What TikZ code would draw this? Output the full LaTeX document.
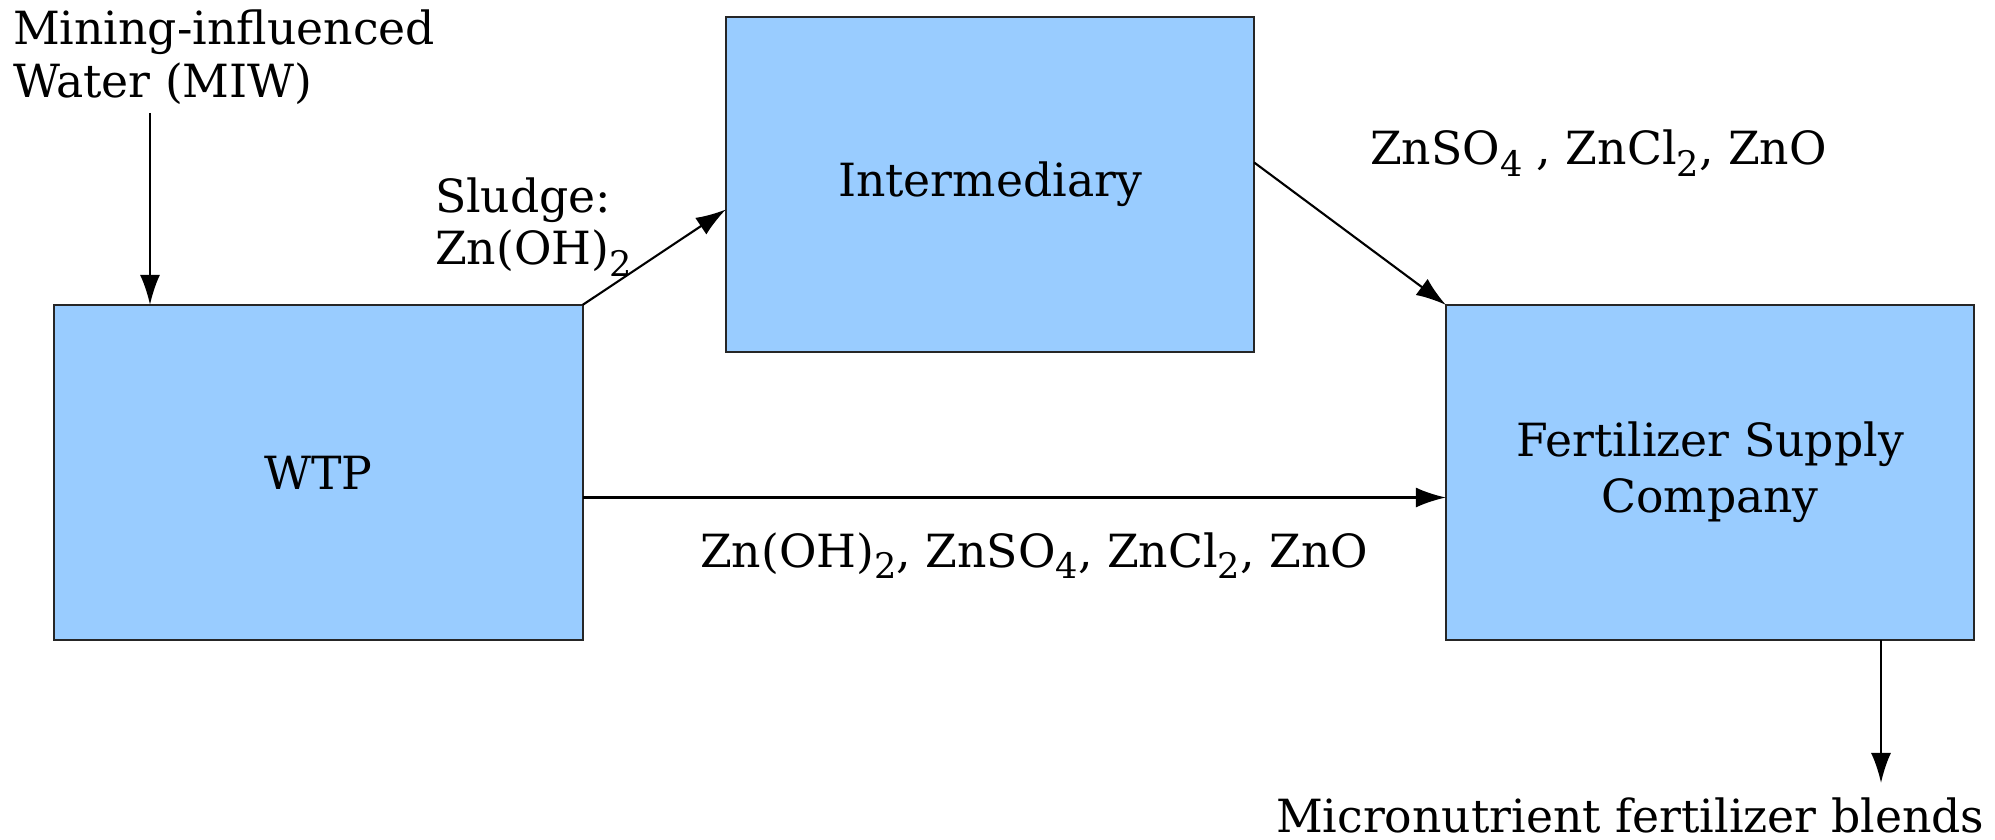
\documentclass[tikz,border=0pt]{standalone}
\usepackage{fontspec}
\setmainfont{DejaVu Serif}
\usetikzlibrary{arrows.meta}
\definecolor{boxblue}{HTML}{99CCFF}
\newcommand{\chemsub}[1]{\raisebox{-0.5ex}{\fontsize{10}{12}\selectfont #1}}
\tikzset{
  unit/.style={draw=black!85, line width=0.6pt, fill=boxblue, minimum width=5.28cm, minimum height=3.35cm,
    inner sep=0pt, outer sep=0pt, align=center, font=\fontsize{13}{16}\selectfont},
  lbl/.style={inner sep=0pt, outer sep=0pt, align=left, font=\fontsize{13}{16}\selectfont},
  flow/.style={-{Latex[length=3mm,width=2mm]}, line width=0.6pt}
}
\begin{document}
\begin{tikzpicture}[x=0.01cm, y=-0.01cm]
      \useasboundingbox (0,0) rectangle (1995,840);
      % process units
      \node[unit] (wtp) at (318.5,472.5) {WTP};
      \node[unit] (inter) at (990,184.5) {Intermediary};
      \node[unit] (fert) at (1710,472.5) {Fertilizer Supply\\Company};
      % labels
      \node[lbl, anchor=base west] (miw) at (13,45) {Mining-influenced};
      \node[lbl, anchor=base west] (miw2) at (13,98) {Water (MIW)};
      \node[lbl, anchor=base west] (sludge) at (435,213) {Sludge:};
      \node[lbl, anchor=base west] (sludge2) at (435,265) {Zn(OH)\chemsub{2}};
      \node[lbl, anchor=base west] (zinc1) at (1370,165) {ZnSO\chemsub{4} , ZnCl\chemsub{2}, ZnO};
      \node[lbl, anchor=base west] (zinc2) at (700,567) {Zn(OH)\chemsub{2}, ZnSO\chemsub{4}, ZnCl\chemsub{2}, ZnO};
      \node[lbl, anchor=base west] (blends) at (1276,832) {Micronutrient fertilizer blends};
      % flows
      \coordinate (miwin) at (150,113);
      \coordinate (out) at (1881,783);
      \draw[flow] (miwin) -- (miwin |- wtp.north);
      \draw[flow] (wtp.north east) -- ([yshift=-0.25cm]inter.west);
      \draw[flow] ([yshift=0.22cm]inter.east) -- (fert.north west);
      \draw[flow] ([yshift=-0.25cm]wtp.east) -- ([yshift=-0.25cm]fert.west);
      \draw[flow] (fert.south -| out) -- (out);
\end{tikzpicture}
\end{document}
